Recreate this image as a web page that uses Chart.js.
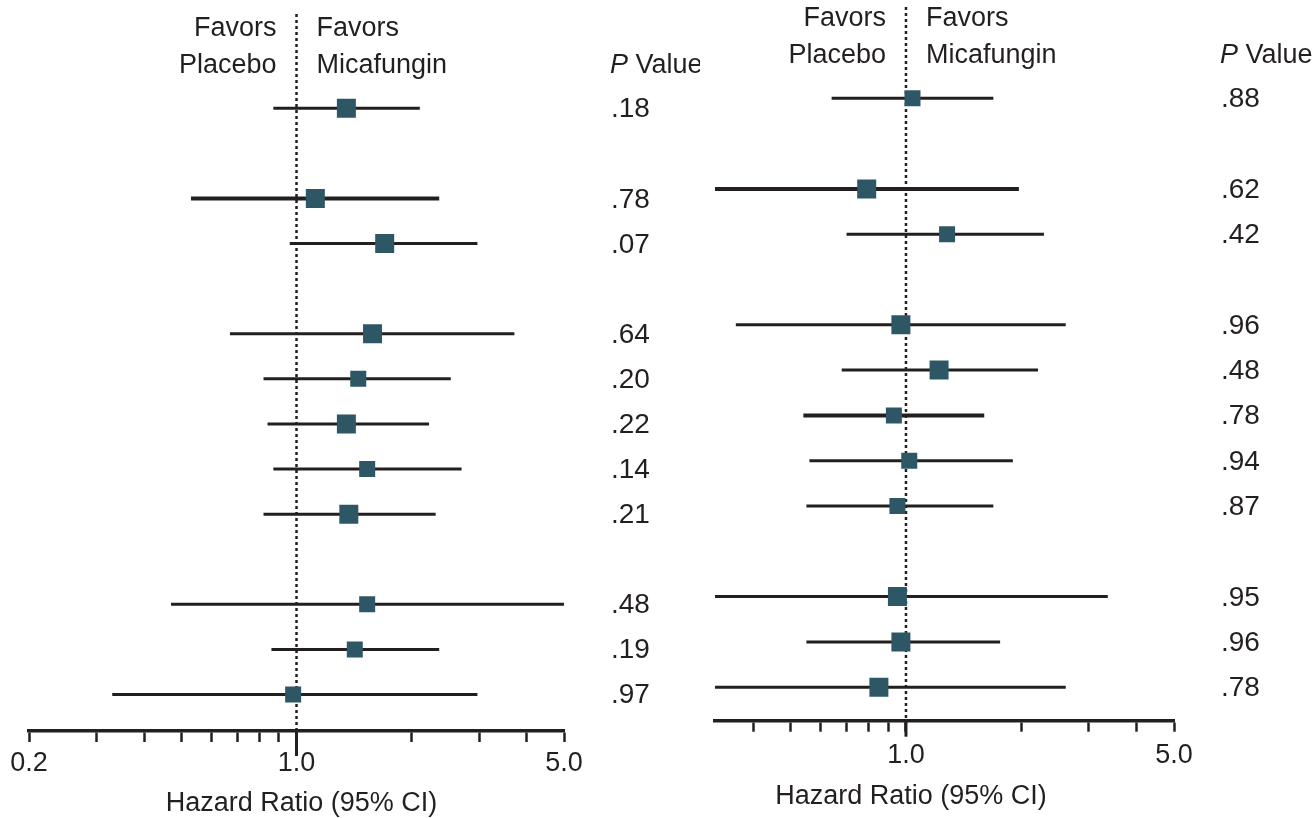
<!DOCTYPE html>
<html>
<head>
<meta charset="utf-8">
<script src="https://cdn.jsdelivr.net/npm/chart.js"></script>
<style>
  body { margin: 0; background: #fff; width: 1314px; height: 818px; overflow: hidden; position: relative; }
  canvas { position: absolute; top: 0; }
  #left { left: 0; }
  #right { left: 700px; }
</style>
</head>
<body>
<canvas id="left" width="700" height="818"></canvas>
<canvas id="right" width="614" height="818"></canvas>
<script>
// rows top to bottom, null = blank spacer row
const leftHR = [1.35, null, 1.12, 1.70, null, 1.58, 1.45, 1.35, 1.53, 1.37, null, 1.53, 1.42, 0.98];
const leftLo = [0.87, null, 0.53, 0.96, null, 0.67, 0.82, 0.84, 0.87, 0.82, null, 0.47, 0.86, 0.33];
const leftHi = [2.10, null, 2.36, 2.97, null, 3.71, 2.53, 2.22, 2.70, 2.31, null, 5.00, 2.36, 2.97];
const leftP = [".18", "", ".78", ".07", "", ".64", ".20", ".22", ".14", ".21", "", ".48", ".19", ".97"];

const rightHR = [1.04, null, 0.79, 1.28, null, 0.97, 1.22, 0.93, 1.02, 0.95, null, 0.95, 0.97, 0.85];
const rightLo = [0.64, null, 0.30, 0.70, null, 0.36, 0.68, 0.54, 0.56, 0.55, null, 0.30, 0.55, 0.30];
const rightHi = [1.69, null, 1.97, 2.29, null, 2.61, 2.21, 1.60, 1.90, 1.69, null, 3.36, 1.76, 2.61];
const rightP = [".88", "", ".62", ".42", "", ".96", ".48", ".78", ".94", ".87", "", ".95", ".96", ".78"];

const leftTicks = [0.2, 0.3, 0.4, 0.5, 0.6, 0.7, 0.8, 0.9, 1, 2, 3, 4, 5];
const rightTicks = [0.4, 0.5, 0.6, 0.7, 0.8, 0.9, 1, 2, 3, 4, 5];
const tickLabels = { 0.2: "0.2", 1: "1.0", 5: "5.0" };

// marker side in px (study weight look), and rows with heavier CI line
const leftBox = [19, 0, 19, 19, 0, 19, 16, 19, 16, 19, 0, 16, 16, 16];
const rightBox = [16, 0, 19, 16, 0, 19, 19, 16, 16, 16, 0, 19, 19, 19];
const leftThick = [2];
const rightThick = [2, 7];

const INK = "#231f20";
const BOX = "#2e5766";
const FONT = "'Liberation Sans', Arial, sans-serif";

function forest(id, hr, lo, hi, pv, ticks, box, thick, L) {
  const idx = hr.map((v, i) => i).filter(i => hr[i] != null);

  const ciSets = idx.map(i => ({
    type: "line",
    data: [{ x: lo[i], y: i }, { x: hi[i], y: i }],
    borderColor: INK,
    borderWidth: thick.includes(i) ? 4 : 3,
    pointRadius: 0,
    showLine: true,
    order: 2,
  }));

  const points = {
    type: "scatter",
    data: idx.map(i => ({ x: hr[i], y: i })),
    pointStyle: "rect",
    pointRadius: idx.map(i => box[i] / Math.SQRT2),
    pointBackgroundColor: BOX,
    pointBorderWidth: 0,
    order: 1,
  };

  const deco = {
    id: "deco",
    beforeDatasetsDraw(chart) {
      const { ctx, chartArea } = chart;
      const x1 = chart.scales.x.getPixelForValue(1);
      ctx.save();
      ctx.strokeStyle = INK;
      ctx.lineWidth = 2.5;
      ctx.setLineDash([3, 3]);
      ctx.beginPath();
      ctx.moveTo(x1, L.lineTop);
      ctx.lineTo(x1, chartArea.bottom);
      ctx.stroke();
      ctx.setLineDash([]);
      ctx.lineWidth = 3;
      ctx.beginPath();
      ctx.moveTo(x1, chartArea.bottom);
      ctx.lineTo(x1, chartArea.bottom + L.bigTick);
      ctx.stroke();
      ctx.restore();
    },
    afterDraw(chart) {
      const { ctx, chartArea } = chart;
      const x1 = chart.scales.x.getPixelForValue(1);
      const yS = chart.scales.y;
      const r0 = yS.getPixelForValue(0);
      const px = chartArea.right + 47;
      ctx.save();
      ctx.fillStyle = INK;
      ctx.font = "27px " + FONT;
      ctx.textBaseline = "alphabetic";
      ctx.textAlign = "right";
      ctx.fillText("Favors", x1 - 20, r0 - 72);
      ctx.fillText("Placebo", x1 - 20, r0 - 35);
      ctx.textAlign = "left";
      ctx.fillText("Favors", x1 + 20, r0 - 72);
      ctx.fillText("Micafungin", x1 + 20, r0 - 35);

      // P Value header, italic P
      ctx.font = "italic 27px " + FONT;
      ctx.fillText("P", px - 1, r0 - 35);
      const w = ctx.measureText("P").width;
      ctx.font = "27px " + FONT;
      ctx.fillText(" Value", px - 1 + w, r0 - 35);

      ctx.font = "28px " + FONT;
      pv.forEach((p, i) => {
        if (p) ctx.fillText(p, px, yS.getPixelForValue(i) + 9);
      });

      ctx.font = "27px " + FONT;
      ctx.textAlign = "center";
      ctx.textBaseline = "middle";
      ctx.fillText("Hazard Ratio (95% CI)", x1 + 5, chartArea.bottom + L.titleDy);
      ctx.restore();
    },
  };

  return new Chart(document.getElementById(id), {
    type: "scatter",
    data: { datasets: [points, ...ciSets] },
    options: {
      responsive: false,
      animation: false,
      layout: { padding: { top: L.top, left: L.left, right: L.right, bottom: 0 } },
      plugins: { legend: { display: false }, tooltip: { enabled: false } },
      scales: {
        y: { type: "linear", display: false, reverse: true, min: -1.5, max: L.yMax },
        x: {
          type: "logarithmic",
          position: "bottom",
          bounds: "data",
          min: L.xMin,
          max: 5,
          afterBuildTicks: s => { s.ticks = ticks.map(v => ({ value: v })); },
          afterFit: s => { s.height = L.axisH; },
          ticks: {
            autoSkip: false,
            maxRotation: 0,
            padding: L.tickPad,
            color: INK,
            font: { family: FONT, size: 27 },
            callback: v => tickLabels[v] || "",
          },
          grid: { drawOnChartArea: false, tickLength: 11, tickWidth: 2.5, tickColor: INK },
          border: { display: true, color: INK, width: 3.5 },
        },
      },
    },
    plugins: [deco],
  });
}

forest("left", leftHR, leftLo, leftHi, leftP, leftTicks, leftBox, leftThick,
  { top: 40.7, left: 29, right: 136, axisH: 87, yMax: 13.81, xMin: 0.2, lineTop: 14, bigTick: 25, tickPad: 5, titleDy: 73 });
forest("right", rightHR, rightLo, rightHi, rightP, rightTicks, rightBox, rightThick,
  { top: 30.4, left: 15, right: 140, axisH: 97.3, yMax: 13.74, xMin: 0.3177, lineTop: 7, bigTick: 16, tickPad: 8, titleDy: 76 });
</script>
</body>
</html>
